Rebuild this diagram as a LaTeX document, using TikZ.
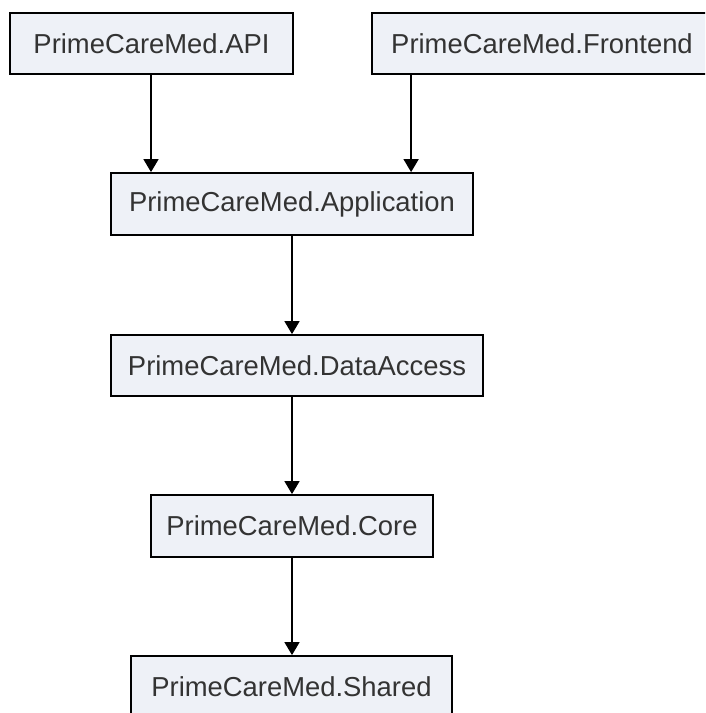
\documentclass[tikz,border=0pt]{standalone}
\usepackage{fontspec}
\setmainfont{Liberation Sans}
\usetikzlibrary{arrows.meta}
\definecolor{boxfill}{HTML}{EEF1F7}
\definecolor{txt}{HTML}{333333}
\begin{document}
\begin{tikzpicture}[x=1pt,y=1pt,
  modbox/.style={draw=black,line width=1.8pt,fill=boxfill,text=txt,
    font=\fontsize{27.4pt}{32pt}\selectfont,inner sep=0pt,anchor=center},
  dep/.style={line width=1.6pt,-{Triangle[width=15pt,length=13pt]}}]
\useasboundingbox (0,0) rectangle (705,-713);
\begin{scope}
\clip (0,0) rectangle (705,-713);
\node[modbox,minimum width=283pt,minimum height=61pt] (api) at (151.5,-43.5) {PrimeCareMed.API};
\node[modbox,minimum width=340pt,minimum height=61pt] (fe) at (542,-43.5) {PrimeCareMed.Frontend};
\node[modbox,minimum width=362pt,minimum height=62pt] (app) at (292,-204) {PrimeCareMed.Application};
\node[modbox,minimum width=372pt,minimum height=61pt] (da) at (297,-365.5) {PrimeCareMed.DataAccess};
\node[modbox,minimum width=282pt,minimum height=62pt] (core) at (292,-526) {PrimeCareMed.Core};
\node[modbox,minimum width=321pt,minimum height=61pt] (shared) at (291.5,-686.5) {PrimeCareMed.Shared};
\coordinate (aa) at ([xshift=-0.5pt]api.south);
\coordinate (fa) at ([xshift=40pt]fe.south west);
\draw[dep] (aa) -- (aa |- app.north);
\draw[dep] (fa) -- (fa |- app.north);
\draw[dep] (app.south) -- (app.south |- da.north);
\draw[dep] (da.south -| core.north) -- (core.north);
\draw[dep] (core.south) -- (core.south |- shared.north);
\end{scope}
\end{tikzpicture}
\end{document}
